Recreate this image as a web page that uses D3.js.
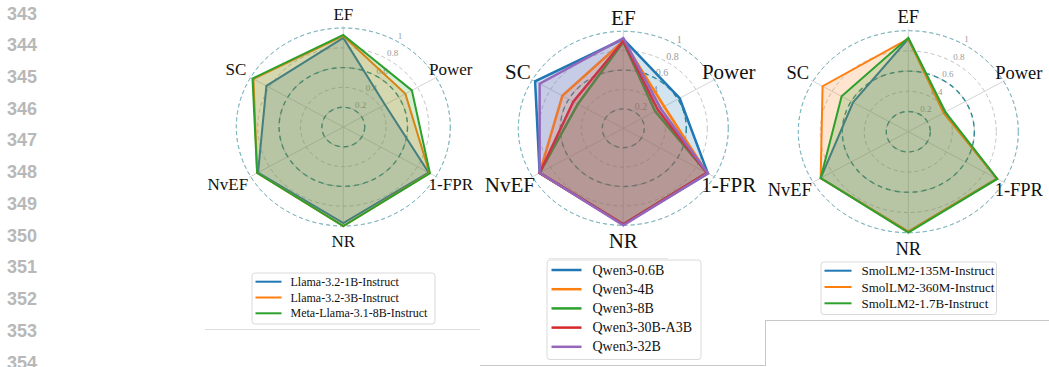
<!DOCTYPE html>
<html>
<head>
<meta charset="utf-8">
<script src="https://cdn.jsdelivr.net/npm/d3@7"></script>
<style>
  body { margin: 0; background: #fff; }
  svg { display: block; }
</style>
</head>
<body>
<svg id="page" width="1049" height="367"></svg>
<script>
// axis order, clockwise from the top
const axes = ["EF", "Power", "1-FPR", "NR", "NvEF", "SC"];
const ringValues = [0.2, 0.4, 0.6, 0.8, 1.0];
const ringLabels = ["0.2", "0.4", "0.6", "0.8", "1"];
const tealRings = [0.2, 0.6, 1.0];

const llamaNames = ["Llama-3.2-1B-Instruct", "Llama-3.2-3B-Instruct", "Meta-Llama-3.1-8B-Instruct"];
const llamaValues = [
  [0.90, 0.45, 0.92, 0.97, 0.92, 0.83],
  [0.92, 0.67, 0.93, 1.00, 0.93, 0.97],
  [0.93, 0.74, 0.935, 1.00, 0.93, 0.98]
];

const qwenNames = ["Qwen3-0.6B", "Qwen3-4B", "Qwen3-8B", "Qwen3-30B-A3B", "Qwen3-32B"];
const qwenValues = [
  [0.92, 0.62, 0.93, 0.99, 0.92, 0.97],
  [0.90, 0.45, 0.92, 0.99, 0.92, 0.67],
  [0.89, 0.35, 0.92, 0.99, 0.92, 0.50],
  [0.90, 0.38, 0.92, 0.99, 0.92, 0.55],
  [0.93, 0.41, 0.93, 1.00, 0.92, 0.92]
];

const smolNames = ["SmolLM2-135M-Instruct", "SmolLM2-360M-Instruct", "SmolLM2-1.7B-Instruct"];
const smolValues = [
  [0.92, 0.38, 0.93, 0.99, 0.92, 0.58],
  [0.92, 0.37, 0.93, 0.99, 0.92, 0.90],
  [0.93, 0.39, 0.935, 1.00, 0.92, 0.70]
];

const lineNumbers = ["343", "344", "345", "346", "347", "348", "349", "350", "351", "352", "353", "354"];

const colors = ["#1f77b4", "#ff7f0e", "#2ca02c", "#d62728", "#9467bd"];
const serif = "'Liberation Serif', 'Times New Roman', serif";

const svg = d3.select("#page");
svg.append("rect").attr("width", 1049).attr("height", 367).attr("fill", "#fff");

//Line numbers of the page margin
const lineY = d3.scaleLinear().domain([0, lineNumbers.length - 1]).range([13.5, 362.5]);
svg.append("g")
  .selectAll("text")
  .data(lineNumbers)
  .join("text")
  .attr("x", 7)
  .attr("y", (d, i) => lineY(i))
  .attr("dominant-baseline", "central")
  .attr("font-family", "'Liberation Sans', Arial, sans-serif")
  .attr("font-weight", "bold")
  .attr("font-size", 18)
  .attr("fill", "#b8b8b8")
  .text((d) => d);

//Page crop edges
const edges = [
  [205, 329.5, 480, 329.5, "#dcdcdc"],
  [480, 365.5, 765, 365.5, "#c8c8c8"],
  [765.5, 320, 765.5, 366, "#c8c8c8"],
  [765, 320.5, 1049, 320.5, "#c8c8c8"],
  [548, 258.5, 668, 258.5, "#e6e6e6"]
];
svg.append("g")
  .selectAll("line")
  .data(edges)
  .join("line")
  .attr("x1", (d) => d[0]).attr("y1", (d) => d[1])
  .attr("x2", (d) => d[2]).attr("y2", (d) => d[3])
  .attr("stroke", (d) => d[4]).attr("stroke-width", 1);

function createRadar(names, values, opt) {
  const g = svg.append("g").attr("transform", "translate(" + opt.cx + "," + opt.cy + ")");

  // the source image is a little wider than tall, so two radial scales
  const rx = d3.scaleLinear().domain([0, 1]).range([0, opt.rh]);
  const ry = d3.scaleLinear().domain([0, 1]).range([0, opt.rv]);
  const angle = d3.scaleLinear().domain([0, axes.length]).range([Math.PI / 2, Math.PI / 2 - 2 * Math.PI]);

  const px = (v, i) => rx(v) * Math.cos(angle(i));
  const py = (v, i) => -ry(v) * Math.sin(angle(i));

  //grey dashed rings
  g.append("g")
    .selectAll("ellipse")
    .data(ringValues)
    .join("ellipse")
    .attr("rx", (d) => rx(d)).attr("ry", (d) => ry(d))
    .attr("fill", "none")
    .attr("stroke", "#c4c4c4")
    .attr("stroke-width", 1)
    .attr("stroke-dasharray", "4,3");

  //spokes
  g.append("g")
    .selectAll("line")
    .data(axes)
    .join("line")
    .attr("x1", 0).attr("y1", 0)
    .attr("x2", (d, i) => px(1.02, i))
    .attr("y2", (d, i) => py(1.02, i))
    .attr("stroke", "#cfcfcf")
    .attr("stroke-width", 0.9);

  //teal dashed rings
  g.append("g")
    .selectAll("ellipse")
    .data(tealRings)
    .join("ellipse")
    .attr("rx", (d) => rx(d)).attr("ry", (d) => ry(d))
    .attr("fill", "none")
    .attr("stroke", (d) => (d < 1 ? "#2d8c92" : "#74b9c4"))
    .attr("stroke-width", (d) => (d < 1 ? 1.4 : 1))
    .attr("stroke-dasharray", (d) => (d < 1 ? "5,4" : "4,3"));

  //radial tick labels
  const labelAngle = Math.PI / 3;
  g.append("g")
    .selectAll("text")
    .data(ringValues)
    .join("text")
    .attr("x", (d) => rx(d) * Math.cos(labelAngle) + 1)
    .attr("y", (d) => -ry(d) * Math.sin(labelAngle) - 5)
    .attr("dominant-baseline", "central")
    .attr("font-family", serif)
    .attr("font-size", opt.tickSize)
    .attr("fill", "#9a9a9a")
    .text((d, i) => ringLabels[i]);

  //series
  const line = d3.line()
    .x((d, i) => px(d, i))
    .y((d, i) => py(d, i))
    .curve(d3.curveLinearClosed);

  values.forEach((vals, s) => {
    g.append("path")
      .attr("d", line(vals))
      .attr("fill", colors[s])
      .attr("fill-opacity", 0.2)
      .attr("stroke", "none");
    g.append("path")
      .attr("d", line(vals))
      .attr("fill", "none")
      .attr("stroke", colors[s])
      .attr("stroke-width", opt.lineWidth)
      .attr("stroke-linejoin", "miter");
  });

  //axis labels
  g.append("g")
    .selectAll("text")
    .data(axes)
    .join("text")
    .attr("x", (d, i) => px(1.16, i) + (d === "NvEF" ? -8 : 0))
    .attr("y", (d, i) => py(1.16, i) + (d === "EF" ? 2 : 0))
    .attr("text-anchor", "middle")
    .attr("dominant-baseline", "central")
    .attr("font-family", serif)
    .attr("font-size", opt.labelSize)
    .attr("fill", "#111")
    .text((d) => d);

  //legend
  const lg = opt.legend;
  const leg = svg.append("g").attr("transform", "translate(" + lg.x + "," + lg.y + ")");
  leg.append("rect")
    .attr("x", 0.5).attr("y", 0.5)
    .attr("width", lg.w).attr("height", lg.h)
    .attr("rx", 3)
    .attr("fill", "#fff")
    .attr("stroke", "#dadada");

  const rowY = d3.scaleLinear().domain([0, 1]).range([lg.first, lg.first + lg.step]);
  const rows = leg.selectAll("g.row")
    .data(names)
    .join("g")
    .attr("class", "row")
    .attr("transform", (d, i) => "translate(0," + rowY(i) + ")");
  rows.append("line")
    .attr("x1", lg.lineX0).attr("x2", lg.lineX1)
    .attr("stroke", (d, i) => colors[i])
    .attr("stroke-width", lg.lineWidth);
  rows.append("text")
    .attr("x", lg.textX)
    .attr("dominant-baseline", "central")
    .attr("font-family", serif)
    .attr("font-size", lg.fontSize)
    .attr("fill", "#111")
    .text((d) => d);
}

createRadar(llamaNames, llamaValues, {
  cx: 343.3, cy: 127, rh: 107, rv: 99, labelSize: 17, tickSize: 9, lineWidth: 2,
  legend: { x: 251.5, y: 272.5, w: 183, h: 51, first: 9.2, step: 15.8,
            lineX0: 4, lineX1: 30, textX: 39, fontSize: 12, lineWidth: 2 }
});

createRadar(qwenNames, qwenValues, {
  cx: 623.3, cy: 128.3, rh: 105, rv: 97, labelSize: 21, tickSize: 10, lineWidth: 2.5,
  legend: { x: 546.5, y: 259.5, w: 154, h: 99.5, first: 10.5, step: 19.2,
            lineX0: 5, lineX1: 35, textX: 46, fontSize: 14, lineWidth: 2.5 }
});

createRadar(smolNames, smolValues, {
  cx: 908.3, cy: 131.7, rh: 110, rv: 101, labelSize: 18.5, tickSize: 9, lineWidth: 2,
  legend: { x: 820.5, y: 261.5, w: 175.5, h: 52.5, first: 9.2, step: 16.3,
            lineX0: 4, lineX1: 31, textX: 41, fontSize: 13, lineWidth: 2 }
});
</script>
</body>
</html>
